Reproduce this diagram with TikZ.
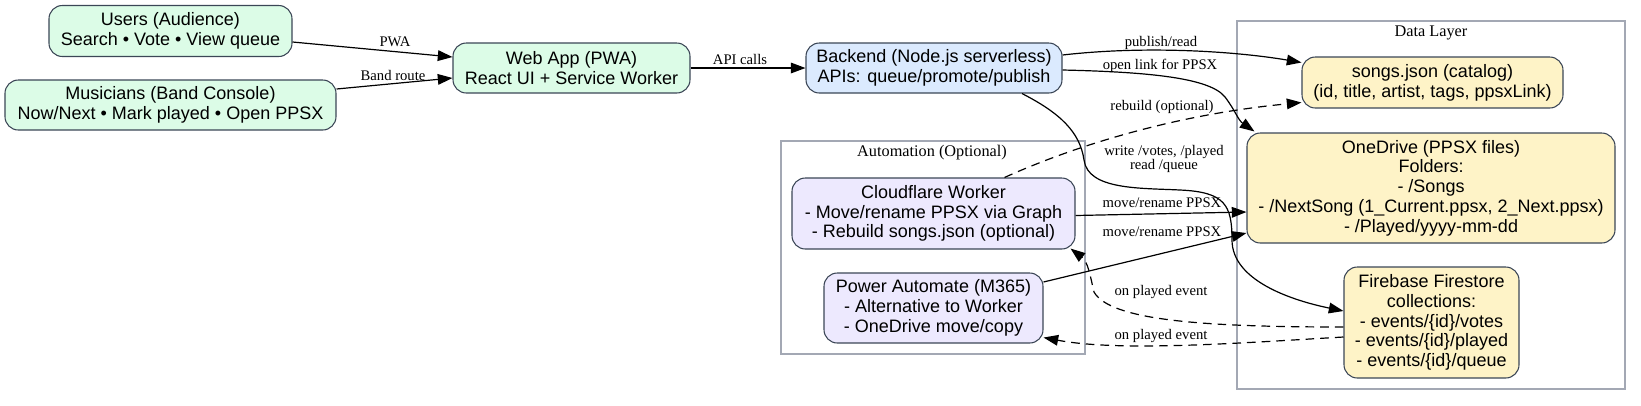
\documentclass[tikz,border=0pt]{standalone}
\usepackage{fontspec}
\setmainfont{Liberation Serif}
\newfontfamily\sansf{Liberation Sans}
\usetikzlibrary{arrows.meta,calc}
\definecolor{bd}{HTML}{3B4656}
\definecolor{clbd}{HTML}{A3A8B4}
\definecolor{gfill}{HTML}{DCFCE7}
\definecolor{bfill}{HTML}{DBEAFE}
\definecolor{pfill}{HTML}{EDE9FE}
\definecolor{yfill}{HTML}{FEF3C7}
\tikzset{
  box/.style={draw=bd, line width=0.8pt, rounded corners=10pt, align=center, inner sep=0pt,
    font=\sansf\fontsize{13.5}{14.8}\selectfont},
  gbox/.style={box, fill=gfill},
  bbox/.style={box, fill=bfill},
  pbox/.style={box, fill=pfill},
  ybox/.style={box, fill=yfill},
  cluster/.style={draw=clbd, line width=0.8pt},
  clabel/.style={font=\fontsize{12.2}{13}\selectfont, inner sep=0pt},
  elabel/.style={font=\fontsize{11}{10.5}\selectfont, inner sep=0pt, align=center},
  arr/.style={line width=0.9pt, -{Triangle[length=11pt,width=8pt]}},
  darr/.style={arr, dash pattern=on 6.5pt off 4.5pt},
}
\begin{document}
\begin{tikzpicture}[x=0.75pt,y=-0.75pt]
\useasboundingbox (0,0) rectangle (1641,405);
% clusters
\draw[cluster] (781,141) rectangle (1085,354);
\node[clabel] (autolbl) at (932,153) {Automation (Optional)};
\draw[cluster] (1237,21) rectangle (1625,389);
\node[clabel] (datalbl) at (1431,33) {Data Layer};
% nodes
\node[gbox, minimum width=182.25pt, minimum height=38.25pt] (users) at (170.5,31) {Users (Audience)\\Search • Vote • View queue};
\node[gbox, minimum width=248.25pt, minimum height=37.5pt] (mus) at (170.5,105) {Musicians (Band Console)\\Now/Next • Mark played • Open PPSX};
\node[gbox, minimum width=177.75pt, minimum height=37.5pt] (web) at (571.5,68) {Web App (PWA)\\React UI + Service Worker};
\node[bbox, minimum width=192pt, minimum height=37.5pt] (back) at (934,68) {Backend (Node.js serverless)\\APIs: queue/promote/publish};
\node[pbox, minimum width=212.25pt, minimum height=53.25pt] (cf) at (933.5,213.5) {Cloudflare Worker\\- Move/rename PPSX via Graph\\- Rebuild songs.json (optional)};
\node[pbox, minimum width=164.25pt, minimum height=52.5pt] (pa) at (933.5,308) {Power Automate (M365)\\- Alternative to Worker\\- OneDrive move/copy};
\node[ybox, minimum width=195.75pt, minimum height=38.25pt] (songs) at (1432.5,82.5) {songs.json (catalog)\\(id, title, artist, tags, ppsxLink)};
\node[ybox, minimum width=276pt, minimum height=82.5pt] (od) at (1431,188) {OneDrive (PPSX files)\\Folders:\\- /Songs\\- /NextSong (1\_Current.ppsx, 2\_Next.ppsx)\\- /Played/yyyy-mm-dd};
\node[ybox, minimum width=131.25pt, minimum height=83.25pt] (fb) at (1431.5,322.5) {Firebase Firestore\\collections:\\- events/\{id\}/votes\\- events/\{id\}/played\\- events/\{id\}/queue};
% edges
\draw[arr] ($(users.east)+(0,11)$) -- ($(web.west)+(0,-11)$);
\node[elabel] (l1) at (395,42) {PWA};
\draw[arr] ($(mus.east)+(0,-16)$) -- ($(web.west)+(0,10)$);
\node[elabel] (l2) at (393,75) {Band route};
\draw[arr] (web.east) -- (back.west);
\node[elabel] (l3) at (740,59) {API calls};
\draw[arr] ($(back.east)+(0,-13)$) .. controls (1150,45) and (1240,52) .. ($(songs.west)+(0,-20)$);
\node[elabel] (l4) at (1161,43) {publish/read};
\draw[arr] ($(back.east)+(0,2)$) .. controls (1150,72) and (1210,78) .. (1225,97) .. controls (1235,110) and (1238,120) .. ($(od.north west)+(8,-1)$);
\node[elabel] (l5) at (1160,66) {open link for PPSX};
\draw[arr] ($(back.south)+(88,0)$) .. controls (1060,113) and (1080,132) .. (1084,160) .. controls (1088,190) and (1140,188) .. (1180,190) .. controls (1225,192) and (1232,205) .. (1232,240) .. controls (1232,280) and (1290,300) .. ($(fb.west)+(0,-11.5)$);
\node[elabel] (l6) at (1164,159) {write /votes, /played\\read /queue};
\draw[darr] ($(cf.north)+(71,0)$) .. controls (1070,148) and (1170,115) .. ($(songs.west)+(0,20)$);
\node[elabel] (l7) at (1162,107) {rebuild (optional)};
\draw[arr] ($(cf.east)+(0,2)$) -- ($(od.west)+(0,24)$);
\node[elabel] (l8) at (1162,203) {move/rename PPSX};
\draw[arr] ($(pa.east)+(0,-26)$) -- ($(od.west)+(0,45)$);
\node[elabel] (l9) at (1162,232) {move/rename PPSX};
\draw[darr] ($(fb.west)+(0,4.5)$) .. controls (1200,327) and (1110,320) .. (1094,292) .. controls (1090,275) and (1088,262) .. ($(cf.south east)+(-5,-1)$);
\node[elabel] (l10) at (1161,292) {on played event};
\draw[darr] ($(fb.west)+(0,14.5)$) .. controls (1240,343) and (1120,352) .. ($(pa.south east)+(0,-6)$);
\node[elabel] (l11) at (1161,336) {on played event};
\end{tikzpicture}
\end{document}
